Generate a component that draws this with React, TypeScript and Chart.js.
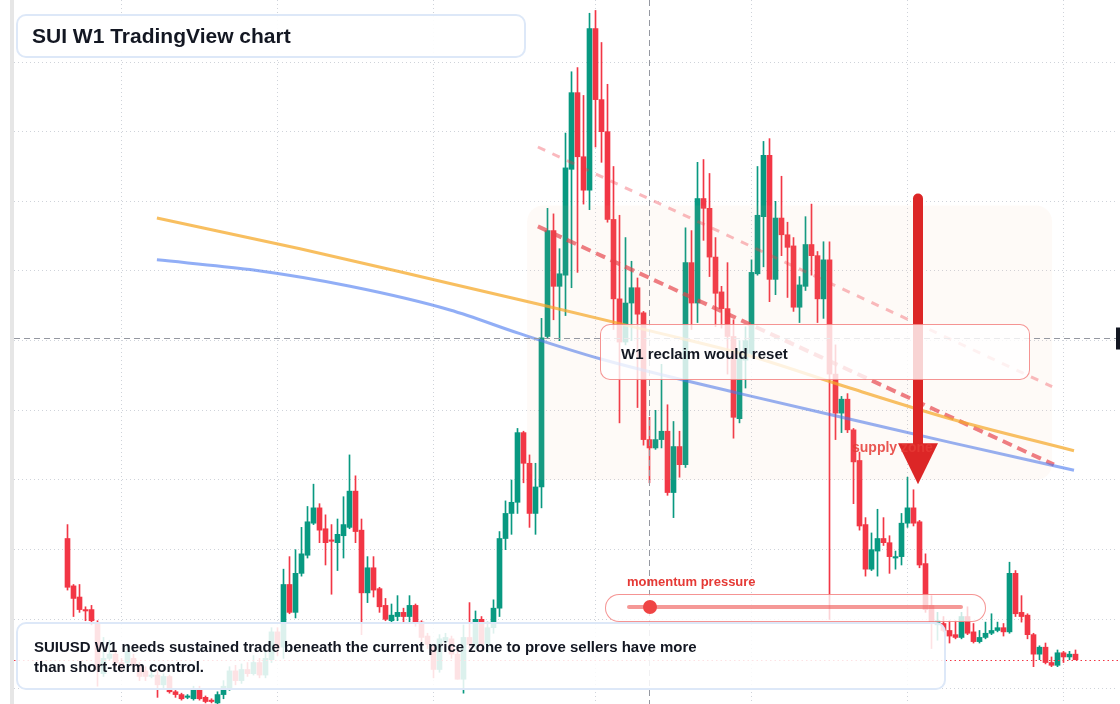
import React, { useEffect, useRef } from "react";
import { Chart, registerables } from "chart.js";

Chart.register(...registerables);

// Weekly SUIUSD candles (USD), oldest first
const opens = [
  1.58, 1.24, 1.16, 1.07, 1.07, 0.97, 0.61, 0.72, 0.75, 0.69,
  0.69, 0.72, 0.67, 0.63, 0.59, 0.60, 0.53, 0.59, 0.48, 0.46,
  0.44, 0.43, 0.50, 0.44, 0.42, 0.40, 0.46, 0.50, 0.63, 0.56,
  0.64, 0.61, 0.69, 0.60, 0.71, 0.91, 0.80, 1.25, 1.05, 1.33,
  1.46, 1.69, 1.80, 1.65, 1.57, 1.55, 1.60, 1.66, 1.92, 1.64,
  1.19, 1.37, 1.22, 1.10, 0.99, 1.02, 1.05, 1.02, 1.10, 0.98,
  0.88, 0.80, 0.64, 0.84, 0.86, 0.75, 0.57, 0.87, 0.82, 1.00,
  0.82, 0.94, 1.08, 1.58, 1.76, 1.84, 2.34, 2.12, 1.76, 1.95,
  3.03, 3.79, 3.39, 3.47, 4.23, 4.78, 4.32, 4.08, 5.24, 4.73,
  4.50, 3.87, 3.30, 2.99, 3.27, 3.38, 3.20, 2.29, 2.23, 2.29,
  2.35, 1.91, 2.24, 2.11, 3.56, 3.27, 4.02, 3.95, 3.60, 3.35,
  3.23, 3.03, 2.44, 2.86, 2.91, 3.48, 3.89, 4.33, 3.44, 3.88,
  3.76, 3.68, 3.24, 3.39, 3.69, 3.61, 3.30, 3.58, 2.76, 2.48,
  2.58, 2.36, 2.14, 1.68, 1.36, 1.49, 1.58, 1.55, 1.44, 1.45,
  1.69, 1.80, 1.70, 1.40, 1.10, 0.96, 0.97, 0.92, 0.89, 0.87,
  1.02, 0.91, 0.84, 0.87, 0.90, 0.92, 0.94, 0.91, 1.33, 1.05,
  1.03, 0.89, 0.75, 0.80, 0.69, 0.67, 0.76, 0.73, 0.75,
];
const highs = [
  1.68, 1.25, 1.25, 1.09, 1.10, 0.99, 0.87, 0.85, 0.78, 0.72,
  0.82, 0.75, 0.69, 0.66, 0.63, 0.63, 0.61, 0.60, 0.49, 0.47,
  0.46, 0.52, 0.52, 0.45, 0.43, 0.48, 0.56, 0.66, 0.67, 0.68,
  0.69, 0.74, 0.72, 0.77, 0.94, 0.94, 1.36, 1.45, 1.50, 1.66,
  1.81, 1.97, 1.83, 1.75, 1.68, 1.72, 1.88, 2.18, 2.03, 1.72,
  1.45, 1.45, 1.23, 1.15, 1.11, 1.17, 1.08, 1.17, 1.11, 0.99,
  0.90, 0.82, 0.89, 0.90, 0.88, 0.80, 0.96, 1.12, 1.06, 1.02,
  0.98, 1.14, 1.63, 1.85, 2.00, 2.37, 2.35, 2.18, 2.12, 3.16,
  3.95, 3.91, 3.66, 4.49, 4.93, 4.96, 4.76, 5.35, 5.37, 5.14,
  4.84, 4.25, 3.90, 3.74, 3.57, 3.45, 3.21, 2.45, 2.50, 2.83,
  2.54, 2.42, 2.35, 3.81, 3.79, 4.28, 4.30, 4.20, 3.74, 3.39,
  3.56, 3.15, 3.00, 3.10, 3.58, 4.25, 4.43, 4.45, 4.00, 4.18,
  3.85, 3.74, 3.46, 3.89, 3.98, 3.64, 3.71, 3.71, 2.97, 2.60,
  2.62, 2.37, 2.20, 1.73, 1.62, 1.79, 1.73, 1.60, 1.49, 1.76,
  2.02, 1.93, 1.71, 1.47, 1.17, 1.05, 1.02, 0.99, 0.99, 1.05,
  1.09, 0.97, 0.92, 0.98, 1.04, 0.98, 0.97, 1.41, 1.35, 1.17,
  1.04, 0.90, 0.81, 0.83, 0.73, 0.78, 0.77, 0.77, 0.78,
];
const lows = [
  1.21, 1.02, 1.05, 0.99, 0.96, 0.52, 0.59, 0.71, 0.66, 0.63,
  0.66, 0.64, 0.56, 0.56, 0.58, 0.44, 0.50, 0.47, 0.44, 0.42,
  0.43, 0.42, 0.42, 0.40, 0.40, 0.39, 0.43, 0.49, 0.53, 0.54,
  0.59, 0.60, 0.58, 0.58, 0.69, 0.74, 0.72, 1.04, 1.01, 1.31,
  1.44, 1.68, 1.55, 1.39, 1.18, 1.35, 1.44, 1.65, 1.55, 0.89,
  1.12, 1.16, 1.05, 0.99, 0.98, 0.99, 0.98, 0.98, 0.95, 0.84,
  0.79, 0.58, 0.62, 0.78, 0.72, 0.57, 0.47, 0.79, 0.79, 0.79,
  0.76, 0.90, 1.02, 1.50, 1.61, 1.76, 1.98, 1.66, 1.61, 1.80,
  3.02, 3.15, 3.00, 3.18, 3.38, 3.49, 3.98, 3.94, 4.39, 4.28,
  3.85, 3.08, 2.41, 2.97, 3.00, 2.52, 2.25, 1.98, 2.22, 2.23,
  1.89, 1.73, 2.02, 2.09, 3.08, 3.13, 3.72, 3.46, 3.10, 3.09,
  2.76, 2.30, 2.41, 2.66, 2.90, 3.47, 3.53, 3.28, 3.33, 3.61,
  3.31, 3.21, 3.13, 3.36, 3.47, 3.13, 3.16, 1.00, 2.29, 2.34,
  2.34, 1.83, 1.64, 1.31, 1.35, 1.31, 1.53, 1.33, 1.36, 1.39,
  1.66, 1.67, 1.37, 1.05, 0.79, 0.85, 0.91, 0.83, 0.86, 0.86,
  0.89, 0.83, 0.83, 0.86, 0.89, 0.91, 0.88, 0.90, 1.02, 0.98,
  0.86, 0.66, 0.71, 0.68, 0.66, 0.66, 0.69, 0.71, 0.71,
];
const closes = [
  1.23, 1.15, 1.07, 1.06, 0.99, 0.64, 0.72, 0.75, 0.69, 0.66,
  0.77, 0.67, 0.59, 0.59, 0.60, 0.53, 0.59, 0.48, 0.46, 0.43,
  0.45, 0.50, 0.43, 0.41, 0.41, 0.46, 0.52, 0.63, 0.56, 0.64,
  0.61, 0.69, 0.60, 0.72, 0.91, 0.80, 1.25, 1.05, 1.33, 1.47,
  1.70, 1.80, 1.64, 1.55, 1.56, 1.61, 1.68, 1.92, 1.63, 1.19,
  1.37, 1.21, 1.09, 1.00, 1.03, 1.05, 1.02, 1.10, 0.97, 0.87,
  0.82, 0.64, 0.86, 0.87, 0.75, 0.57, 0.87, 0.82, 1.00, 0.82,
  0.94, 1.08, 1.58, 1.76, 1.84, 2.34, 2.12, 1.76, 1.95, 3.02,
  3.79, 3.39, 3.48, 4.24, 4.78, 4.32, 4.08, 5.24, 4.73, 4.50,
  3.87, 3.30, 2.99, 3.27, 3.38, 3.19, 2.29, 2.23, 2.29, 2.35,
  1.91, 2.24, 2.11, 3.56, 3.27, 4.02, 3.95, 3.60, 3.34, 3.23,
  3.03, 2.45, 2.87, 3.00, 3.49, 3.90, 4.33, 3.44, 3.88, 3.76,
  3.67, 3.24, 3.40, 3.69, 3.61, 3.30, 3.58, 2.76, 2.48, 2.58,
  2.36, 2.13, 1.67, 1.36, 1.50, 1.58, 1.55, 1.45, 1.45, 1.69,
  1.80, 1.69, 1.39, 1.07, 0.97, 0.99, 0.92, 0.88, 0.87, 1.02,
  0.90, 0.84, 0.87, 0.90, 0.92, 0.94, 0.91, 1.33, 1.04, 1.02,
  0.89, 0.75, 0.80, 0.69, 0.67, 0.76, 0.73, 0.75, 0.71,
];

// half-year time gridlines (week index) and price gridlines
const timeGridWeeks = [9, 35, 61, 88, 114, 140, 166];
const priceGrid = [0.5, 1, 1.5, 2, 2.5, 3, 3.5, 4, 4.5, 5];

// moving-average style curves (week index, price)
const slowWeeks = [14.9, 38.75, 63.75, 78.75, 97.1, 113.75, 130.4, 147.1, 167.75];
const slowValues = [3.88, 3.66, 3.41, 3.26, 3.07, 2.89, 2.66, 2.44, 2.21];
const fastWeeks = [14.9, 30.4, 47.1, 63.75, 75.4, 88.75, 112.1, 132.1, 147.1, 167.75];
const fastValues = [3.58, 3.51, 3.39, 3.22, 3.05, 2.87, 2.62, 2.42, 2.27, 2.07];

// descending trendlines
const upperTrendWeeks = [78.4, 164.1];
const upperTrendValues = [4.39, 2.67];
const lowerTrendWeeks = [78.4, 164.4];
const lowerTrendValues = [3.82, 2.11];

// annotations (data space)
const crossWeek = 96.9;
const crossPrice = 3.02;
const zoneWeeks = [76.6, 164.1];
const zonePrices = [3.97, 2.0];
const arrowWeek = 141.75;
const arrowPrices = [4.02, 2.25, 1.97]; // shaft start, head base, tip

const X_MIN = -8.917;
const X_MAX = 174.75;
const Y_MIN = 0.3923;
const Y_MAX = 5.445;

const UP = "#089981";
const DOWN = "#F23645";

const overlayPlugin = {
  id: "overlayMarks",
  afterDatasetsDraw(chart: any) {
    const { ctx, chartArea } = chart;
    const x = chart.scales.x;
    const y = chart.scales.y;
    ctx.save();

    // supply zone tint
    const zx0 = x.getPixelForValue(zoneWeeks[0]);
    const zx1 = x.getPixelForValue(zoneWeeks[1]);
    const zy0 = y.getPixelForValue(zonePrices[0]);
    const zy1 = y.getPixelForValue(zonePrices[1]);
    ctx.fillStyle = "rgba(240,185,140,0.065)";
    ctx.beginPath();
    ctx.roundRect(zx0, zy0, zx1 - zx0, zy1 - zy0, 16);
    ctx.fill();

    // last price dotted line
    const lp = Math.round(y.getPixelForValue(closes[closes.length - 1])) + 0.5;
    ctx.strokeStyle = "#F23645";
    ctx.lineWidth = 1;
    ctx.setLineDash([1.5, 3]);
    ctx.beginPath();
    ctx.moveTo(chartArea.left, lp);
    ctx.lineTo(chartArea.right + 4, lp);
    ctx.stroke();

    // crosshair
    const cx = Math.round(x.getPixelForValue(crossWeek)) + 0.5;
    const cy = Math.round(y.getPixelForValue(crossPrice)) + 0.5;
    ctx.strokeStyle = "#9598a1";
    ctx.setLineDash([6, 4]);
    ctx.beginPath();
    ctx.moveTo(cx, chartArea.top);
    ctx.lineTo(cx, chartArea.bottom);
    ctx.moveTo(chartArea.left, cy);
    ctx.lineTo(chartArea.right, cy);
    ctx.stroke();
    ctx.setLineDash([]);
    ctx.fillStyle = "#131722";
    ctx.fillRect(chartArea.right, cy - 11, 12, 22);

    // big down arrow
    const ax = x.getPixelForValue(arrowWeek);
    const a0 = y.getPixelForValue(arrowPrices[0]);
    const a1 = y.getPixelForValue(arrowPrices[1]);
    const a2 = y.getPixelForValue(arrowPrices[2]);
    ctx.strokeStyle = "#DC2626";
    ctx.lineWidth = 10;
    ctx.lineCap = "round";
    ctx.beginPath();
    ctx.moveTo(ax, a0);
    ctx.lineTo(ax, a1 + 4);
    ctx.stroke();
    ctx.fillStyle = "#DC2626";
    ctx.beginPath();
    ctx.moveTo(ax - 20, a1 - 2);
    ctx.lineTo(ax + 20, a1 - 2);
    ctx.lineTo(ax, a2);
    ctx.closePath();
    ctx.fill();

    ctx.restore();
  },
};

export default function App() {
  const canvasRef = useRef<HTMLCanvasElement | null>(null);

  useEffect(() => {
    const weeks = opens.map((_, i) => i);
    const bodies = weeks.map((i) => ({ x: i, y: [opens[i], closes[i]] }));
    const wicks = weeks.map((i) => ({ x: i, y: [lows[i], highs[i]] }));
    const colors = weeks.map((i) => (closes[i] >= opens[i] ? UP : DOWN));
    const pts = (xs: number[], ys: number[]) => xs.map((v, i) => ({ x: v, y: ys[i] }));

    const chart = new Chart(canvasRef.current as HTMLCanvasElement, {
      type: "bar",
      data: {
        datasets: [
          {
            type: "line",
            data: pts(slowWeeks, slowValues),
            borderColor: "rgba(245,166,35,0.72)",
            borderWidth: 3,
            pointRadius: 0,
            cubicInterpolationMode: "monotone",
            order: 0,
          } as any,
          {
            type: "line",
            data: pts(fastWeeks, fastValues),
            borderColor: "rgba(66,115,240,0.58)",
            borderWidth: 3,
            pointRadius: 0,
            cubicInterpolationMode: "monotone",
            order: 0,
          } as any,
          {
            type: "line",
            data: pts(upperTrendWeeks, upperTrendValues),
            borderColor: "rgba(242,54,69,0.35)",
            borderWidth: 3,
            borderDash: [8, 8],
            pointRadius: 0,
            order: 0,
          } as any,
          {
            type: "line",
            data: pts(lowerTrendWeeks, lowerTrendValues),
            borderColor: "rgba(230,57,70,0.68)",
            borderWidth: 4,
            borderDash: [10, 6],
            pointRadius: 0,
            order: 0,
          } as any,
          {
            type: "bar",
            data: bodies as any,
            backgroundColor: colors,
            barThickness: 5,
            minBarLength: 1,
            grouped: false,
            borderWidth: 0,
            order: 1,
          } as any,
          {
            type: "bar",
            data: wicks as any,
            backgroundColor: colors,
            barThickness: 1,
            grouped: false,
            borderWidth: 0,
            order: 2,
          } as any,
        ],
      },
      options: {
        responsive: false,
        maintainAspectRatio: false,
        devicePixelRatio: 1,
        animation: false,
        events: [],
        layout: { padding: { left: 14, right: 4, top: 0, bottom: 0 } },
        plugins: { legend: { display: false }, tooltip: { enabled: false } },
        scales: {
          x: {
            type: "linear",
            min: X_MIN,
            max: X_MAX,
            offset: false,
            afterBuildTicks: (s: any) => {
              s.ticks = timeGridWeeks.map((v) => ({ value: v }));
            },
            ticks: { display: false },
            grid: { color: "#cfd3da", drawTicks: false, offset: false, lineWidth: 1 },
            border: { display: false, dash: [1, 3] },
          },
          y: {
            type: "linear",
            min: Y_MIN,
            max: Y_MAX,
            beginAtZero: false,
            afterBuildTicks: (s: any) => {
              s.ticks = priceGrid.map((v) => ({ value: v }));
            },
            ticks: { display: false },
            grid: { color: "#cfd3da", drawTicks: false, lineWidth: 1 },
            border: { display: false, dash: [1, 3] },
          },
        } as any,
      },
      plugins: [overlayPlugin],
    });
    return () => chart.destroy();
  }, []);

  const font = '"Liberation Sans", Arial, Helvetica, sans-serif';
  const ink = "#131722";
  const redBorder = "1.5px solid rgba(239,83,80,0.62)";
  const blueBorder = "2px solid #dde8f8";

  return (
    <div
      style={{
        position: "fixed",
        left: 0,
        top: 0,
        width: 1120,
        height: 704,
        background: "#ffffff",
        overflow: "hidden",
        fontFamily: font,
      }}
    >
      <canvas
        ref={canvasRef}
        width={1120}
        height={704}
        style={{ position: "absolute", left: 0, top: 0, width: 1120, height: 704 }}
      />
      <div style={{ position: "absolute", left: 10, top: 0, width: 4, height: 704, background: "#e6e6e6" }} />

      <div
        style={{
          position: "absolute",
          left: 852,
          top: 439,
          fontSize: 14,
          lineHeight: "16px",
          fontWeight: 700,
          color: "rgba(229,57,53,0.85)",
          whiteSpace: "nowrap",
        }}
      >
        supply zone
      </div>

      <div
        style={{
          position: "absolute",
          left: 16,
          top: 14,
          width: 510,
          height: 44,
          boxSizing: "border-box",
          border: blueBorder,
          borderRadius: 10,
          background: "rgba(255,255,255,0.92)",
          display: "flex",
          alignItems: "center",
          paddingLeft: 14,
          fontSize: 21,
          fontWeight: 700,
          color: ink,
        }}
      >
        SUI W1 TradingView chart
      </div>

      <div
        style={{
          position: "absolute",
          left: 600,
          top: 324,
          width: 430,
          height: 56,
          boxSizing: "border-box",
          border: redBorder,
          borderRadius: 10,
          background: "rgba(255,255,255,0.8)",
          display: "flex",
          alignItems: "center",
          paddingLeft: 20,
          paddingTop: 2,
          fontSize: 15,
          fontWeight: 700,
          color: ink,
          whiteSpace: "nowrap",
        }}
      >
        W1 reclaim would reset
      </div>

      <div
        style={{
          position: "absolute",
          left: 627,
          top: 574,
          fontSize: 13,
          lineHeight: "16px",
          fontWeight: 700,
          color: "#e53935",
          whiteSpace: "nowrap",
        }}
      >
        momentum pressure
      </div>
      <div
        style={{
          position: "absolute",
          left: 605,
          top: 594,
          width: 381,
          height: 28,
          boxSizing: "border-box",
          border: redBorder,
          borderRadius: 14,
          background: "rgba(255,255,255,0.78)",
        }}
      />
      <div
        style={{
          position: "absolute",
          left: 627,
          top: 605,
          width: 336,
          height: 4,
          background: "rgba(239,83,80,0.6)",
          borderRadius: 2,
        }}
      />
      <div
        style={{
          position: "absolute",
          left: 643,
          top: 600,
          width: 14,
          height: 14,
          borderRadius: 7,
          background: "#ef4444",
        }}
      />

      <div
        style={{
          position: "absolute",
          left: 16,
          top: 622,
          width: 930,
          height: 68,
          boxSizing: "border-box",
          border: blueBorder,
          borderRadius: 10,
          background: "rgba(255,255,255,0.86)",
          paddingLeft: 16,
          paddingTop: 13,
          fontSize: 15,
          lineHeight: "20px",
          fontWeight: 700,
          color: ink,
          whiteSpace: "nowrap",
        }}
      >
        SUIUSD W1 needs sustained trade beneath the current price zone to prove sellers have more
        <br />
        than short-term control.
      </div>
    </div>
  );
}
